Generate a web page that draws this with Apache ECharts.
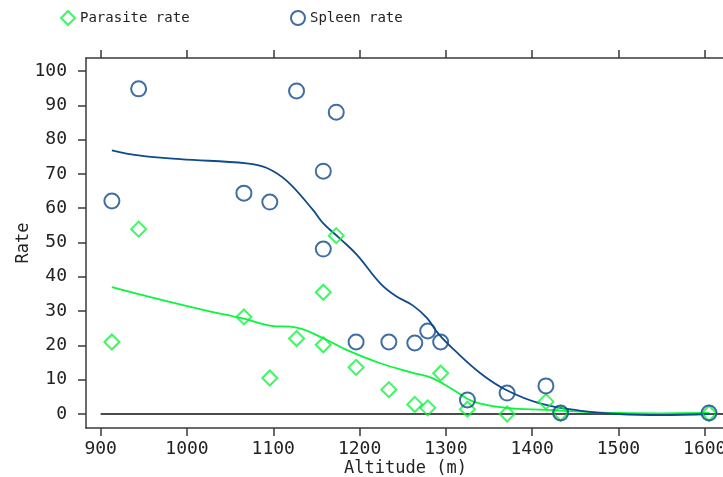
<!DOCTYPE html>
<html>
<head>
<meta charset="utf-8">
<script src="https://cdn.jsdelivr.net/npm/echarts@6/dist/echarts.min.js"></script>
<style>
  html, body { margin: 0; padding: 0; background: #fff; overflow: hidden; }
  #chart { width: 723px; height: 477px; }
</style>
</head>
<body>
<div id="chart"></div>
<script>
// Altitude of each survey village (m)
const altitude = [913, 944, 1066, 1096, 1127, 1173, 1158, 1158, 1196, 1234, 1264, 1279, 1294, 1325, 1371, 1416, 1433, 1605];
// Observed rates (%) per village
const parasiteRate = [21.0, 53.9, 28.3, 10.5, 22.0, 52.0, 35.5, 20.2, 13.6, 7.1, 2.8, 1.8, 11.9, 1.4, 0.0, 3.6, 0.2, 0.2];
const spleenRate = [62.1, 94.8, 64.4, 61.8, 94.2, 88.0, 70.8, 48.1, 21.0, 21.0, 20.7, 24.2, 21.0, 4.1, 6.1, 8.2, 0.3, 0.3];

// Smoothed trend curves
const spleenSmoothX = [913, 944, 992, 1069, 1092, 1116, 1146, 1158, 1177, 1197, 1224, 1242, 1262, 1278, 1292, 1310, 1340, 1370, 1409, 1455, 1500, 1550, 1605];
const spleenSmoothY = [76.9, 75.4, 74.3, 73.1, 71.8, 67.9, 59.5, 55.6, 51.2, 46.4, 38.1, 34.4, 31.6, 28.0, 23.2, 18.6, 11.9, 7.0, 3.1, 1.0, 0.0, -0.3, 0.0];
const parasiteSmoothX = [913, 945, 1015, 1066, 1096, 1127, 1158, 1185, 1224, 1262, 1285, 1309, 1332, 1370, 1417, 1455, 1500, 1550, 1605];
const parasiteSmoothY = [37.0, 34.9, 30.6, 27.8, 25.8, 25.2, 22.1, 18.7, 14.8, 12.0, 10.4, 7.0, 3.6, 1.8, 1.2, 0.7, 0.3, 0.2, 0.3];

// Axis ticks
const xTicks = [900, 1000, 1100, 1200, 1300, 1400, 1500, 1600];
const yTicks = [0, 10, 20, 30, 40, 50, 60, 70, 80, 90, 100];
const baseline = [[900, 0], [1623.5, 0]];

const GREEN = '#0cf53c';
const BLUE = '#0f4a8c';
const AXIS = '#3a3a3a';
const FONT = '"DejaVu Sans Mono", monospace';

const pairs = (xs, ys) => xs.map((x, i) => [x, ys[i]]);
const plain = v => String(v);

const xRange = { min: 883, max: 1623.5 };

const chart = echarts.init(document.getElementById('chart'), null, { renderer: 'canvas' });
chart.setOption({
  animation: false,
  backgroundColor: '#fff',
  grid: { left: 86, top: 58, width: 639, height: 370, containLabel: false, outerBoundsMode: 'none' },
  legend: [
    {
      data: [{ name: 'Parasite rate', icon: 'diamond' }],
      left: 55, top: 5, itemWidth: 14, itemHeight: 14, itemGap: 6,
      textStyle: { fontFamily: FONT, fontSize: 14, color: '#222' }
    },
    {
      data: [{ name: 'Spleen rate', icon: 'circle' }],
      left: 285, top: 5, itemWidth: 14, itemHeight: 14, itemGap: 6,
      textStyle: { fontFamily: FONT, fontSize: 14, color: '#222' }
    }
  ],
  xAxis: [
    {
      type: 'value', position: 'bottom', ...xRange,
      name: 'Altitude (m)', nameLocation: 'middle', nameGap: 32, nameMoveOverlap: false,
      nameTextStyle: { fontFamily: FONT, fontSize: 17, color: '#222' },
      axisLine: { show: true, onZero: false, lineStyle: { color: AXIS, width: 1.5 } },
      axisTick: { show: true, inside: false, length: 8, customValues: xTicks, lineStyle: { color: AXIS, width: 1.5 } },
      axisLabel: { show: true, customValues: xTicks, formatter: plain, margin: 12, fontFamily: FONT, fontSize: 18, color: '#222' },
      splitLine: { show: false }
    },
    {
      type: 'value', position: 'top', ...xRange,
      axisLine: { show: true, onZero: false, lineStyle: { color: AXIS, width: 1.5 } },
      axisTick: { show: true, inside: false, length: 8, customValues: xTicks, lineStyle: { color: AXIS, width: 1.5 } },
      axisLabel: { show: false },
      splitLine: { show: false }
    }
  ],
  yAxis: {
    type: 'value', min: -4.08, max: 103.8,
    name: 'Rate', nameLocation: 'middle', nameGap: 54, nameRotate: 90, nameMoveOverlap: false,
    nameTextStyle: { fontFamily: FONT, fontSize: 17, color: '#222' },
    axisLine: { show: true, onZero: false, lineStyle: { color: AXIS, width: 1.5 } },
    axisTick: { show: true, inside: false, length: 8, customValues: yTicks, lineStyle: { color: AXIS, width: 1.5 } },
    axisLabel: { show: true, customValues: yTicks, formatter: plain, margin: 19, fontFamily: FONT, fontSize: 18, color: '#222' },
    splitLine: { show: false }
  },
  series: [
    {
      name: 'zero', type: 'line', data: baseline, symbol: 'none', silent: true,
      lineStyle: { color: '#111', width: 1.5 }, z: 1
    },
    {
      name: 'Parasite rate trend', type: 'line', data: pairs(parasiteSmoothX, parasiteSmoothY),
      smooth: 0.4, symbol: 'none', silent: true,
      lineStyle: { color: GREEN, width: 1.8 }, z: 2
    },
    {
      name: 'Spleen rate trend', type: 'line', data: pairs(spleenSmoothX, spleenSmoothY),
      smooth: 0.4, symbol: 'none', silent: true,
      lineStyle: { color: BLUE, width: 1.8 }, z: 2
    },
    {
      name: 'Parasite rate', type: 'scatter', data: pairs(altitude, parasiteRate),
      symbol: 'diamond', symbolSize: 15,
      itemStyle: { color: 'rgba(255,255,255,0)', borderColor: GREEN, borderWidth: 2 }, z: 3
    },
    {
      name: 'Spleen rate', type: 'scatter', data: pairs(altitude, spleenRate),
      symbol: 'circle', symbolSize: 15,
      itemStyle: { color: 'rgba(255,255,255,0)', borderColor: BLUE, borderWidth: 2 }, z: 3
    }
  ]
});
</script>
</body>
</html>
